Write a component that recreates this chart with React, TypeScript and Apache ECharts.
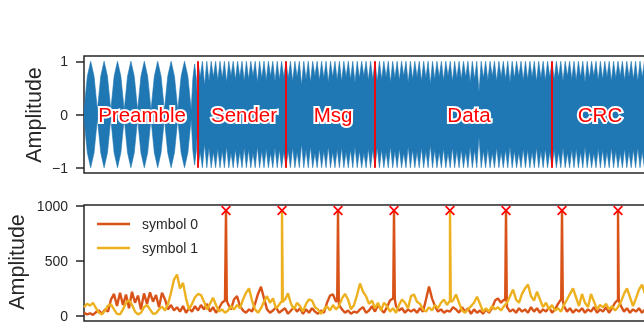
import React, { useEffect, useRef } from "react";
import * as echarts from "echarts";

const FONT = "Liberation Sans, Arial, sans-serif";
const TXT = "#262626";
const BLUE = "#1f77b4";
const C0 = "#d95319";
const C1 = "#edb120";

// ---------- top panel (signal envelope) ----------
const SECTION_NAMES = ["Preamble", "Sender", "Msg", "Data", "CRC"];
const SECTION_LABEL_X = [58, 160, 249, 385, 516];
const BOUNDARIES = [114, 202, 291, 468];
const SECTION_STARTS = [114, 202, 291, 468];
const SECTION_ENDS = [202, 291, 468, 600];
const PREAMBLE_VALLEYS = [0, 13.4, 26.8, 40.2, 53.6, 67, 80.4, 93.8, 107.2];
const PREAMBLE_PEAKS = [1, 1, 1, 1, 1, 1, 1, 1, 0.95];
const SENDER_NOTCH = [0.7, 0.55, 0.62, 0.7, 0.64, 0.68, 0.6, 0.72, 0.65, 0.7, 0.62, 0.66, 0.72, 0.6, 0.68, 0.64, 0.72, 0.62, 0.66, 0.7];
const MSG_NOTCH = [0.68, 0.62, 0.7, 0.55, 0.66, 0.6, 0.72, 0.64, 0.68, 0.6, 0.7, 0.65, 0.62, 0.7, 0.66, 0.6, 0.68, 0.72, 0.64, 0.66];
const DATA_NOTCH = [0.62, 0.66, 0.7, 0.6, 0.68, 0.64, 0.72, 0.6, 0.66, 0.7, 0.62, 0.68, 0.57, 0.66, 0.7, 0.64, 0.72, 0.62, 0.68, 0.66, 0.7, 0.6, 0.66, 0.42, 0.68, 0.64, 0.72, 0.62, 0.7, 0.66, 0.6, 0.68, 0.72, 0.64, 0.66, 0.7, 0.62, 0.68, 0.64, 0.7];
const CRC_NOTCH = [0.66, 0.7, 0.62, 0.72, 0.66, 0.64, 0.7, 0.6, 0.68, 0.72, 0.64, 0.66, 0.7, 0.62, 0.68, 0.72, 0.64, 0.7, 0.66, 0.62, 0.7, 0.66, 0.62, 0.7, 0.64, 0.68, 0.7, 0.62, 0.66, 0.7];
const NOTCHES = [SENDER_NOTCH, MSG_NOTCH, DATA_NOTCH, CRC_NOTCH];
const TOP_Y_TICKS = [-1, 0, 1];

// ---------- bottom panel (symbol amplitudes) ----------
const SAMPLE_STEP = 3;
const SYM0 = [30,15,25,10,35,50,20,60,40,150, 200,90,210,100,195,70,220,120,185,60, 205,110,215,130,190,80,210,150,60,100, 50,80,40,90,30,70,40,90,50,100, 60,110,40,80,30,70,120,140,110,60, 150,180,90,50,30,60,40,110,200,265, 160,60,30,50,80,30,50,70,20,50, 80,40,70,20,60,30,70,40,20,50, 30,120,185,195,130,100,60,30,50,20, 40,30,60,80,30,50,90,40,100,60, 30,80,140,160,90,50,70,30,60,40, 60,30,70,40,150,267,160,90,40,60, 30,50,40,80,60,30,80,40,70,20, 60,30,50,20,60,30,70,140,160,120, 150,80,40,60,30,70,40,60,30,80, 40,70,30,60,40,80,30,60,110,150, 90,40,70,30,60,40,70,30,60,40, 80,30,60,40,80,30,70,120,150,90, 40,70,30,60,40,70,30,60];
const SYM1 = [80,110,95,120,70,30,15,50,95,105, 60,20,15,60,120,145,100,40,15,30, 80,100,60,20,25,60,85,50,110,210, 330,375,250,300,160,60,110,170,200,190, 130,60,110,165,100,40,60,30,50,90, 60,100,70,150,210,250,140,60,30,70, 130,180,120,160,70,100,120,150,205,110, 60,120,90,40,110,150,140,80,60,20, 60,90,50,100,60,90,160,200,150,60, 100,190,295,220,180,110,140,70,120,50, 120,90,40,70,30,100,150,120,70,180, 195,130,110,60,40,80,50,100,70,120, 150,100,130,140,195,120,50,30,60,90, 120,175,110,40,70,40,90,60,80,50, 90,120,180,240,150,120,200,250,285,180, 140,220,150,80,120,60,100,50,70,40, 100,150,200,250,170,90,200,120,80,200, 130,60,100,80,110,60,90,50,80,130, 200,250,170,90,160,240,285,200];
const PEAK_X = [142, 198, 254, 310, 366, 422, 478, 534];
const PEAK_Y = [955, 955, 955, 955, 955, 955, 955, 955];
const PEAK_OWNER = [0, 1, 0, 0, 1, 0, 0, 0];
const PEAK_BASE = [140, 130, 140, 150, 130, 140, 140, 140];
const BOTTOM_Y_TICKS = [0, 500, 1000];
const LEGEND_NAMES = ["symbol 0", "symbol 1"];

const X_MAX = 616;

function buildEnvelope(): [number, number][] {
  const env: [number, number][] = [];
  PREAMBLE_VALLEYS.forEach((v, k) => {
    const next = k + 1 < PREAMBLE_VALLEYS.length ? PREAMBLE_VALLEYS[k + 1] : BOUNDARIES[0];
    const w = next - v;
    const pk = PREAMBLE_PEAKS[k];
    env.push([v, 0.08]);
    env.push([v + w * 0.25, 0.72 * pk]);
    env.push([v + w * 0.5, pk]);
    env.push([v + w * 0.75, 0.72 * pk]);
  });
  env.push([BOUNDARIES[0], 0.08]);
  NOTCHES.forEach((notch, s) => {
    const start = SECTION_STARTS[s];
    const end = SECTION_ENDS[s];
    const p = s === NOTCHES.length - 1 ? 4.4 : (end - start) / notch.length;
    notch.forEach((d, k) => {
      env.push([start + k * p, 1]);
      env.push([start + (k + 0.5) * p, d]);
    });
    if (s === NOTCHES.length - 1) env.push([start + notch.length * p, 1]);
  });
  return env;
}

function buildSymbol(values: number[], owner: number): number[][] {
  const pts: number[][] = values.map((v, i) => [SAMPLE_STEP * i, v]);
  PEAK_X.forEach((x, k) => {
    if (PEAK_OWNER[k] !== owner) return;
    pts.push([x - 0.8, PEAK_BASE[k]], [x, PEAK_Y[k]], [x + 0.8, PEAK_BASE[k]]);
  });
  pts.sort((a, b) => a[0] - b[0]);
  return pts;
}

export default function App() {
  const ref = useRef<HTMLDivElement>(null);
  useEffect(() => {
    if (!ref.current) return;
    const chart = echarts.init(ref.current, undefined, { renderer: "svg" });
    const upper = buildEnvelope();
    const lower = upper.map(([x, y]) => [x, -y]);
    const s0 = buildSymbol(SYM0, 0);
    const s1 = buildSymbol(SYM1, 1);
    const fmtMinus = (v: number) => (v < 0 ? "\u2212" + Math.abs(v) : String(v));
    const labelData = SECTION_NAMES.map((n, i) => ({ value: [SECTION_LABEL_X[i], 0], name: n }));
    const xAxisBase = {
      type: "value",
      min: 0,
      max: X_MAX,
      axisLine: { show: false },
      axisTick: { show: false },
      axisLabel: { show: false },
      splitLine: { show: false },
    };
    const yAxisBase = (ticks: number[]) => ({
      type: "value",
      axisLine: { show: false },
      splitLine: { show: false },
      axisTick: { show: true, length: 8, customValues: ticks, lineStyle: { color: TXT, width: 1.5 } },
      axisLabel: { show: true, customValues: ticks, formatter: fmtMinus, color: TXT, fontSize: 14, margin: 16, fontFamily: FONT },
    });
    chart.setOption({
      animation: false,
      textStyle: { fontFamily: FONT },
      grid: [
        { left: 84, top: 56, width: X_MAX, height: 117, show: true, borderColor: TXT, borderWidth: 1.5, backgroundColor: "transparent" },
        { left: 84, top: 205, width: X_MAX, height: 116, show: true, borderColor: TXT, borderWidth: 1.5, backgroundColor: "transparent" },
      ],
      xAxis: [
        { ...xAxisBase, gridIndex: 0 },
        { ...xAxisBase, gridIndex: 1 },
      ],
      yAxis: [
        { ...yAxisBase(TOP_Y_TICKS), gridIndex: 0, min: -1.1, max: 1.1 },
        { ...yAxisBase(BOTTOM_Y_TICKS), gridIndex: 1, min: -45, max: 1005 },
      ],
      legend: {
        data: LEGEND_NAMES,
        orient: "vertical",
        left: 92,
        top: 212,
        icon: "rect",
        itemWidth: 33,
        itemHeight: 2.5,
        itemGap: 10,
        textStyle: { fontSize: 14, color: TXT, lineHeight: 14, padding: [0, 0, 0, 7], fontFamily: FONT },
      },
      graphic: [
        { type: "text", x: 34, y: 115, rotation: Math.PI / 2, style: { text: "Amplitude", fontSize: 21.5, fill: TXT, align: "center", verticalAlign: "middle", fontFamily: FONT } },
        { type: "text", x: 16.5, y: 262, rotation: Math.PI / 2, style: { text: "Amplitude", fontSize: 21.5, fill: TXT, align: "center", verticalAlign: "middle", fontFamily: FONT } },
      ],
      series: [
        {
          type: "line", name: "env+", xAxisIndex: 0, yAxisIndex: 0, data: upper, symbol: "none",
          lineStyle: { color: BLUE, width: 0.6 }, areaStyle: { color: BLUE, opacity: 1, origin: -0.05 }, z: 2,
        },
        {
          type: "line", name: "env-", xAxisIndex: 0, yAxisIndex: 0, data: lower, symbol: "none",
          lineStyle: { color: BLUE, width: 0.6 }, areaStyle: { color: BLUE, opacity: 1, origin: 0.05 }, z: 2,
          markLine: {
            silent: true, symbol: "none", label: { show: false },
            lineStyle: { color: "#ff0000", width: 1.8, type: "solid", opacity: 1 },
            data: BOUNDARIES.map((b) => [{ coord: [b, -1] }, { coord: [b, 1] }]),
          },
        },
        {
          type: "scatter", name: "labelHalo", xAxisIndex: 0, yAxisIndex: 0, symbolSize: 0, z: 9,
          itemStyle: { opacity: 1 },
          data: labelData,
          label: {
            show: true, position: "inside", formatter: (p: any) => p.name, color: "#ffffff", opacity: 1,
            fontSize: 20.5, fontFamily: FONT, textBorderColor: "#ffffff", textBorderWidth: 4,
          },
        },
        {
          type: "scatter", name: "labels", xAxisIndex: 0, yAxisIndex: 0, symbolSize: 0, z: 10,
          itemStyle: { opacity: 1 },
          data: labelData,
          label: {
            show: true, position: "inside", formatter: (p: any) => p.name, color: "#ff0000", opacity: 1,
            fontSize: 20.5, fontFamily: FONT,
          },
        },
        {
          type: "line", name: LEGEND_NAMES[0], xAxisIndex: 1, yAxisIndex: 1, data: s0, symbol: "none",
          lineStyle: { color: C0, width: 2.4 }, itemStyle: { color: C0 }, z: 3,
        },
        {
          type: "line", name: LEGEND_NAMES[1], xAxisIndex: 1, yAxisIndex: 1, data: s1, symbol: "none",
          lineStyle: { color: C1, width: 2.4 }, itemStyle: { color: C1 }, z: 4,
        },
        {
          type: "scatter", name: "peaks", xAxisIndex: 1, yAxisIndex: 1, z: 10,
          symbol: "path://M0,12L12,0L50,38L88,0L100,12L62,50L100,88L88,100L50,62L12,100L0,88L38,50Z",
          symbolSize: 10, itemStyle: { color: "#ff0000", opacity: 1 },
          data: PEAK_X.map((x, i) => [x, PEAK_Y[i]]),
        },
      ],
    });
    return () => chart.dispose();
  }, []);
  return (
    <div style={{ position: "fixed", left: 0, top: 0, width: 644, height: 326, overflow: "hidden" }}>
      <div ref={ref} style={{ width: 720, height: 326 }} />
    </div>
  );
}
